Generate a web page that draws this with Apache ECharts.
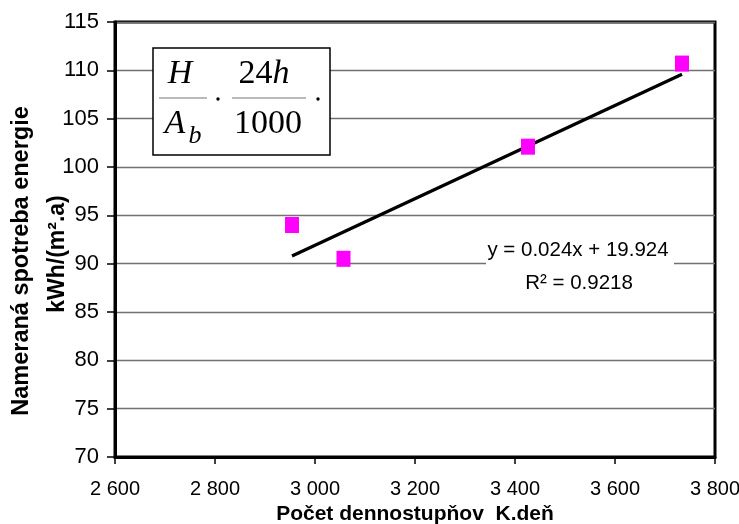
<!DOCTYPE html>
<html>
<head>
<meta charset="utf-8">
<script src="https://cdn.jsdelivr.net/npm/echarts@6/dist/echarts.min.js"></script>
<style>
html,body{margin:0;padding:0;background:#fff;}
#chart{width:739px;height:524px;}
</style>
</head>
<body>
<div id="chart"></div>
<script>
// Data
const degreeDays = [2954, 3057, 3426, 3734];          // Počet dennostupňov K.deň
const consumption = [94.0, 90.5, 102.1, 110.7];       // kWh/(m².a)
const trendX = [2954, 3734];                           // trend line end points (x)
const trendY = [90.8, 109.6];                          // trend line end points (y)
const xTicks = [2600, 2800, 3000, 3200, 3400, 3600, 3800];
const yTicks = [70, 75, 80, 85, 90, 95, 100, 105, 110, 115];
const eqLine1 = 'y = 0.024x + 19.924';
const eqLine2 = 'R² = 0.9218';
const xTitle = 'Počet dennostupňov  K.deň';
const yTitle1 = 'Nameraná spotreba energie';
const yTitle2 = 'kWh/(m².a)';

const fmtThousands = v => String(v).replace(/\B(?=(\d{3})+(?!\d))/g, ' ');

const chart = echarts.init(document.getElementById('chart'), null, {renderer: 'canvas'});
const sans = '"Liberation Sans", Arial, sans-serif';
const serif = '"Liberation Serif", "Times New Roman", serif';

chart.setOption({
  animation: false,
  backgroundColor: '#fff',
  grid: {
    left: 115, right: 24, top: 22, bottom: 67,
    containLabel: false,
    outerBoundsMode: 'none',
    show: true, borderColor: '#000', borderWidth: 3, backgroundColor: 'transparent'
  },
  xAxis: {
    type: 'value',
    min: xTicks[0], max: xTicks[xTicks.length - 1], interval: 200,
    axisLine: {show: true, lineStyle: {color: '#000', width: 3}},
    axisTick: {show: true, length: 7, lineStyle: {color: '#000', width: 1.5}},
    splitLine: {show: false},
    axisLabel: {
      color: '#000', fontFamily: sans, fontSize: 20, margin: 22,
      formatter: fmtThousands
    },
    name: xTitle,
    nameLocation: 'middle',
    nameGap: 46,
    nameTextStyle: {color: '#000', fontFamily: sans, fontSize: 21, fontWeight: 'bold'}
  },
  yAxis: {
    type: 'value',
    min: yTicks[0], max: yTicks[yTicks.length - 1], interval: 5,
    axisLine: {show: true, lineStyle: {color: '#000', width: 3}},
    axisTick: {show: true, length: 8, lineStyle: {color: '#000', width: 1.5}},
    splitLine: {show: true, lineStyle: {color: '#707070', width: 1.3}},
    axisLabel: {color: '#000', fontFamily: sans, fontSize: 22, margin: 16}
  },
  series: [
    {
      type: 'line',
      data: trendX.map((x, i) => [x, trendY[i]]),
      showSymbol: false,
      symbol: 'none',
      lineStyle: {color: '#000', width: 3.2},
      z: 3
    },
    {
      type: 'scatter',
      data: degreeDays.map((x, i) => [x, consumption[i]]),
      symbol: 'rect',
      symbolSize: [14, 16],
      itemStyle: {color: '#FF00FF', opacity: 1},
      z: 4
    }
  ],
  graphic: [
    // Y axis title (two rotated lines)
    {
      type: 'text', x: 22, y: 261, rotation: Math.PI / 2, z: 10,
      style: {text: yTitle1, fill: '#000', font: 'bold 23.5px ' + sans, align: 'center', verticalAlign: 'middle'}
    },
    {
      type: 'text', x: 58, y: 254, rotation: Math.PI / 2, z: 10,
      style: {text: yTitle2, fill: '#000', font: 'bold 23px ' + sans, align: 'center', verticalAlign: 'middle'}
    },
    // Regression equation label with white background
    {
      type: 'rect', z: 10,
      shape: {x: 486, y: 236, width: 188, height: 62},
      style: {fill: '#fff'}
    },
    {
      type: 'text', x: 578, y: 250, z: 11,
      style: {text: eqLine1, fill: '#000', font: '20.5px ' + sans, align: 'center', verticalAlign: 'middle'}
    },
    {
      type: 'text', x: 579, y: 283, z: 11,
      style: {text: eqLine2, fill: '#000', font: '20.5px ' + sans, align: 'center', verticalAlign: 'middle'}
    },
    // Formula box
    {
      type: 'rect', z: 10,
      shape: {x: 153, y: 48, width: 177, height: 107},
      style: {fill: '#fff', stroke: '#000', lineWidth: 1.5}
    },
    {
      type: 'text', x: 180, y: 74, z: 11,
      style: {text: 'H', fill: '#000', font: 'italic 34px ' + serif, align: 'center', verticalAlign: 'middle'}
    },
    {
      type: 'line', z: 11,
      shape: {x1: 159, y1: 98, x2: 207, y2: 98},
      style: {stroke: '#777', lineWidth: 1.2}
    },
    {
      type: 'text', x: 175, y: 124, z: 11,
      style: {text: 'A', fill: '#000', font: 'italic 34px ' + serif, align: 'center', verticalAlign: 'middle'}
    },
    {
      type: 'text', x: 195, y: 136, z: 11,
      style: {text: 'b', fill: '#000', font: 'italic 26px ' + serif, align: 'center', verticalAlign: 'middle'}
    },
    {
      type: 'circle', z: 11,
      shape: {cx: 218, cy: 99, r: 1.7},
      style: {fill: '#000'}
    },
    {
      type: 'text', x: 264, y: 74, z: 11,
      style: {
        text: '{n|24}{i|h}', align: 'center', verticalAlign: 'middle',
        rich: {
          n: {fill: '#000', font: '34px ' + serif},
          i: {fill: '#000', font: 'italic 34px ' + serif}
        }
      }
    },
    {
      type: 'line', z: 11,
      shape: {x1: 232, y1: 98, x2: 306, y2: 98},
      style: {stroke: '#777', lineWidth: 1.2}
    },
    {
      type: 'text', x: 268, y: 124, z: 11,
      style: {text: '1000', fill: '#000', font: '34px ' + serif, align: 'center', verticalAlign: 'middle'}
    },
    {
      type: 'circle', z: 11,
      shape: {cx: 318, cy: 99, r: 1.7},
      style: {fill: '#000'}
    }
  ]
});
</script>
</body>
</html>
